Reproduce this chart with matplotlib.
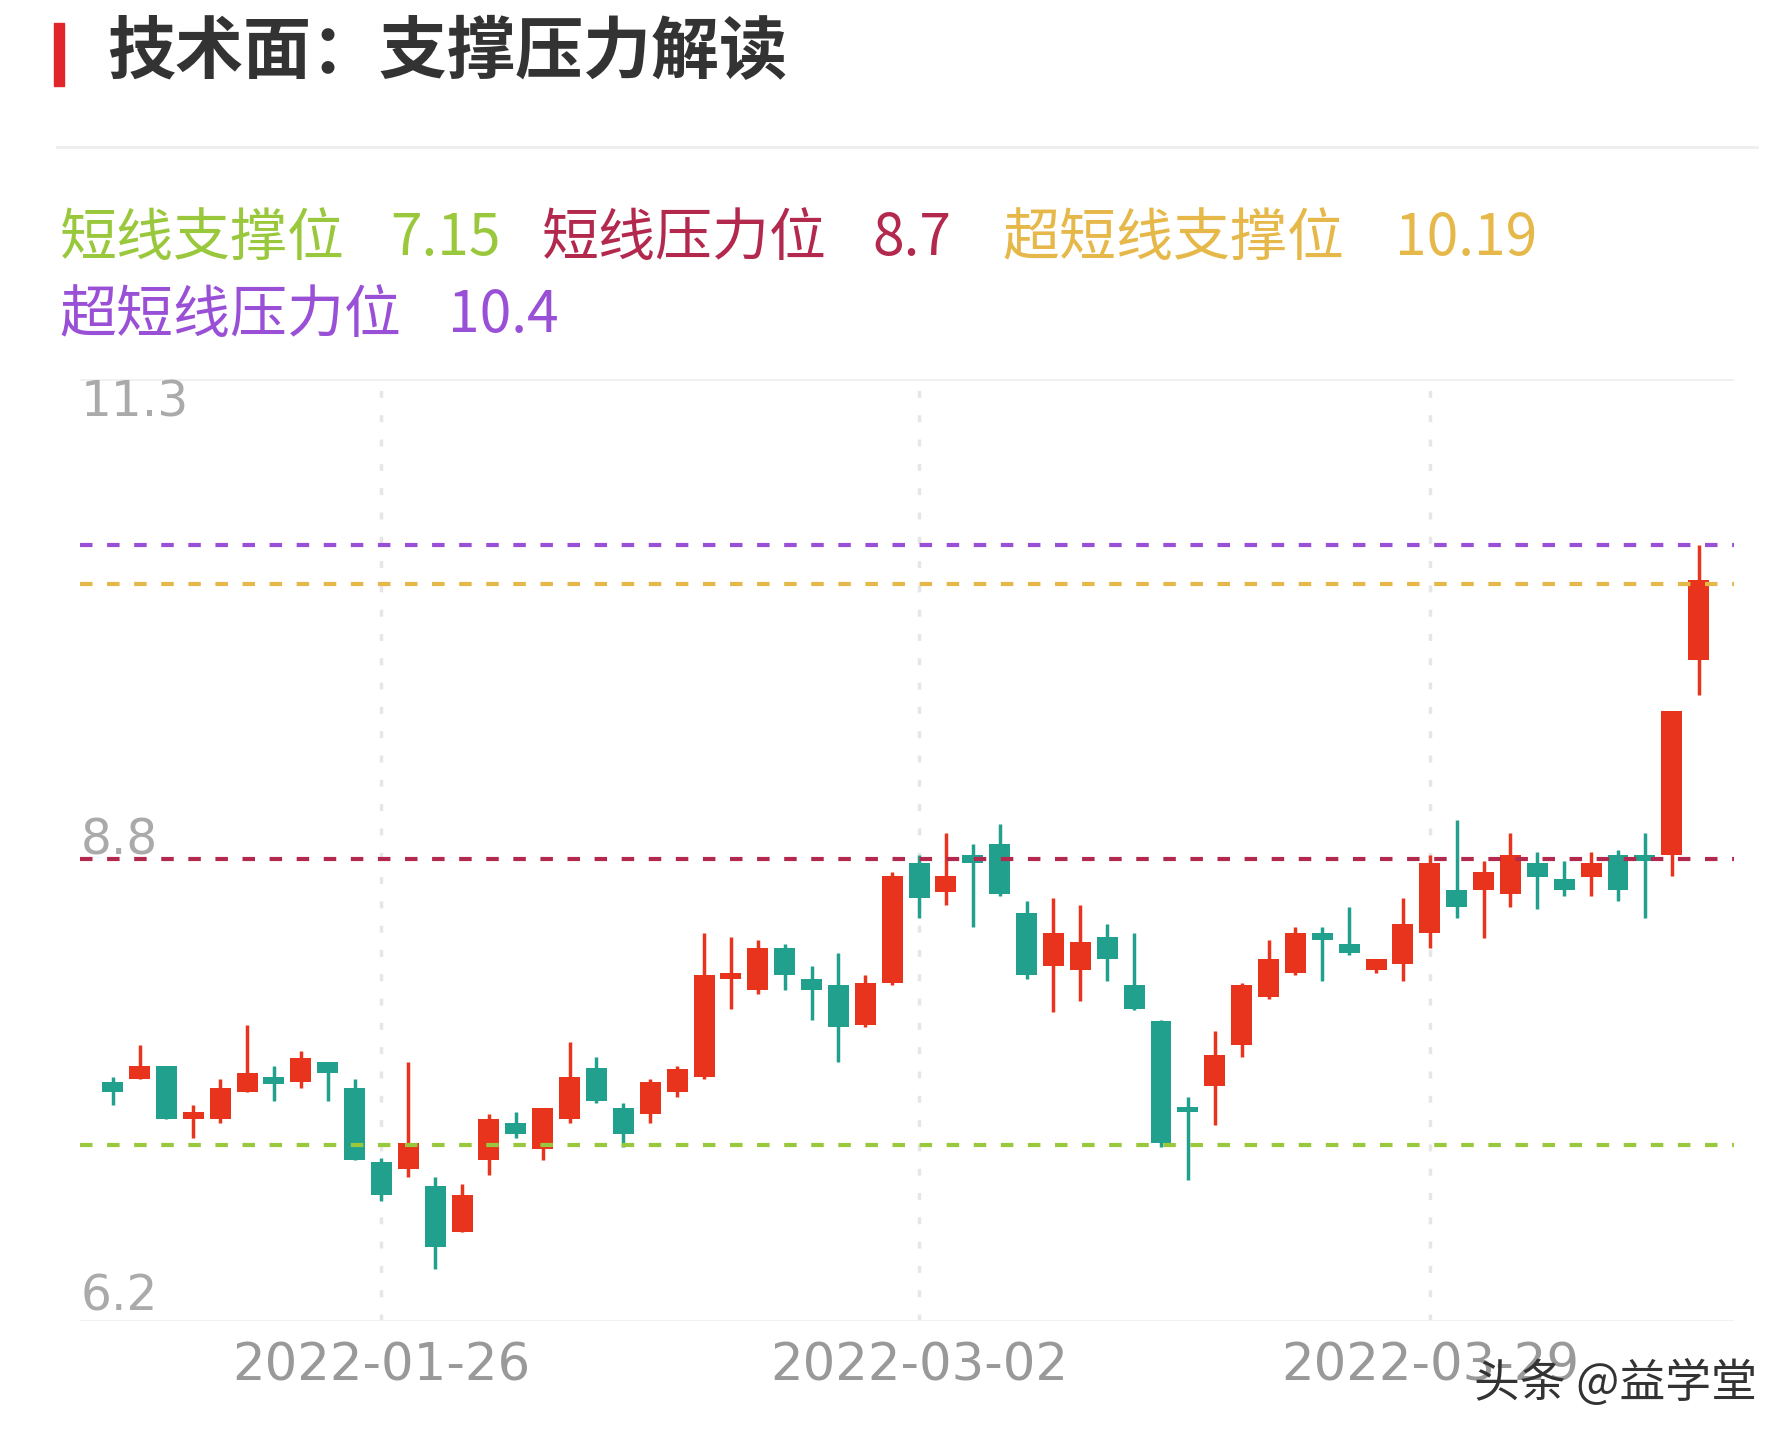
import matplotlib
matplotlib.use("Agg")
import matplotlib.pyplot as plt
from matplotlib.lines import Line2D

plt.rcParams['font.family'] = ['Noto Sans CJK SC', 'DejaVu Sans']

opens  = [7.49,7.51,7.58,7.29,7.29,7.44,7.52,7.49,7.60,7.46,7.06,7.02,6.93,6.68,7.07,7.27,7.13,7.29,7.57,7.35,
          7.32,7.44,7.52,8.05,7.99,8.22,8.05,8.02,7.80,8.03,8.68,8.52,8.72,8.78,8.41,8.12,8.10,8.28,8.02,7.82,
          7.35,7.47,7.69,7.95,8.08,8.30,8.24,8.10,8.13,8.30,8.53,8.53,8.51,8.68,8.59,8.60,8.72,8.72,8.72,9.78]
closes = [7.44,7.58,7.29,7.33,7.46,7.54,7.48,7.62,7.54,7.07,6.88,7.16,6.60,6.88,7.29,7.21,7.35,7.52,7.39,7.21,
          7.49,7.56,8.07,8.08,8.22,8.07,7.99,7.79,8.03,8.61,8.49,8.61,8.68,8.51,8.07,8.30,8.25,8.16,7.89,7.16,
          7.33,7.64,8.02,8.16,8.30,8.26,8.19,8.16,8.35,8.68,8.44,8.63,8.72,8.60,8.53,8.68,8.53,8.69,9.50,10.21]
highs  = [7.52,7.69,7.58,7.37,7.51,7.80,7.58,7.66,7.60,7.51,7.08,7.60,6.98,6.94,7.32,7.33,7.35,7.71,7.63,7.38,
          7.51,7.58,8.30,8.28,8.26,8.24,8.12,8.19,8.07,8.63,8.72,8.84,8.78,8.89,8.47,8.49,8.45,8.35,8.30,7.83,
          7.41,7.77,8.03,8.26,8.33,8.33,8.44,8.16,8.49,8.72,8.91,8.69,8.84,8.74,8.69,8.74,8.75,8.84,9.50,10.40]
lows   = [7.37,7.51,7.29,7.19,7.27,7.44,7.39,7.46,7.39,7.07,6.85,6.98,6.48,6.68,6.99,7.19,7.07,7.27,7.38,7.14,
          7.27,7.41,7.51,7.89,7.97,7.99,7.83,7.60,7.79,8.02,8.38,8.45,8.33,8.50,8.05,7.87,7.93,8.04,7.88,7.14,
          6.96,7.26,7.63,7.94,8.07,8.04,8.18,8.08,8.04,8.22,8.38,8.27,8.44,8.43,8.50,8.50,8.47,8.38,8.61,9.59]
date_labels = ["2022-01-26", "2022-03-02", "2022-03-29"]
date_index = [10, 30, 49]
level_names = ["短线支撑位", "短线压力位", "超短线支撑位", "超短线压力位"]
level_values = [7.15, 8.7, 10.19, 10.4]
level_colors = ["#9ac83c", "#b3294e", "#e6b84a", "#9a50d6"]
ytick_vals = [11.3, 8.8, 6.2]

W, H = 1560, 1254
fig = plt.figure(figsize=(17.91, 14.40), dpi=100)
fig.patch.set_facecolor("white")

def fx(x): return x / W
def fy(y): return 1 - y / H

# title
fig.patches.append(plt.Rectangle((fx(47), fy(75)), fx(9), fy(20) - fy(75), transform=fig.transFigure,
                                 color="#e0262b", zorder=5))
fig.text(fx(93), fy(47), "技术面：支撑压力解读", fontsize=49, color="#333333", va="center", ha="left",
         fontweight="bold")
fig.lines.append(Line2D([fx(50), fx(1530)], [fy(128), fy(128)], transform=fig.transFigure, color="#eeeeee", lw=2))

# legend texts
name_pos = [(52, 208), (472, 208), (873, 208), (52, 275)]
num_pos = [(340, 208), (760, 208), (1215, 208), (390, 275)]
for name, val, col, (nx, ny), (vx, vy) in zip(level_names, level_values, level_colors, name_pos, num_pos):
    fig.text(fx(nx), fy(ny), name, fontsize=41, color=col, va="center", ha="left")
    fig.text(fx(vx), fy(vy), str(val), fontsize=41, color=col, va="center", ha="left")

ax = fig.add_axes([fx(70), fy(1150), fx(1510) - fx(70), fy(330) - fy(1150)])
ax.set_xlim(-1.2, 60.3)
ax.set_ylim(6.2, 11.3)
for s in ax.spines.values():
    s.set_visible(False)
ax.axhline(11.3, color="#f0f0f0", lw=2)
ax.axhline(6.2, color="#f0f0f0", lw=2)
for i in date_index:
    ax.axvline(i, color="#e6e6e6", lw=2.5, ls=(0, (2, 5)), zorder=0)

up, down = "#e8341c", "#22a08e"
for i, (o, c, h, l) in enumerate(zip(opens, closes, highs, lows)):
    col = up if c >= o else down
    ax.vlines(i, l, h, color=col, lw=2.5, zorder=3)
    ax.bar(i, max(abs(c - o), 0.025), bottom=min(o, c), width=0.78, color=col, zorder=3)

for v, col in zip(level_values, level_colors):
    ax.axhline(v, color=col, lw=3, ls=(0, (3, 3.5)), zorder=4)

ax.set_yticks([]); ax.set_xticks([])
for v in ytick_vals:
    ax.text(0.0, v, str(v), transform=ax.get_yaxis_transform(), fontsize=35, color="#aaaaaa",
            ha="left", va="top" if v == 11.3 else ("bottom" if v == 6.2 else "center"), family="DejaVu Sans")
for i, lab in zip(date_index, date_labels):
    ax.text(i, 6.2 - 0.25, lab, fontsize=37, color="#999999", ha="center", va="center", family="DejaVu Sans")

fig.text(fx(1530), fy(1205), "头条 @益学堂", fontsize=33, color="#333333", ha="right", va="center")

fig.savefig("out.png", dpi=100)
